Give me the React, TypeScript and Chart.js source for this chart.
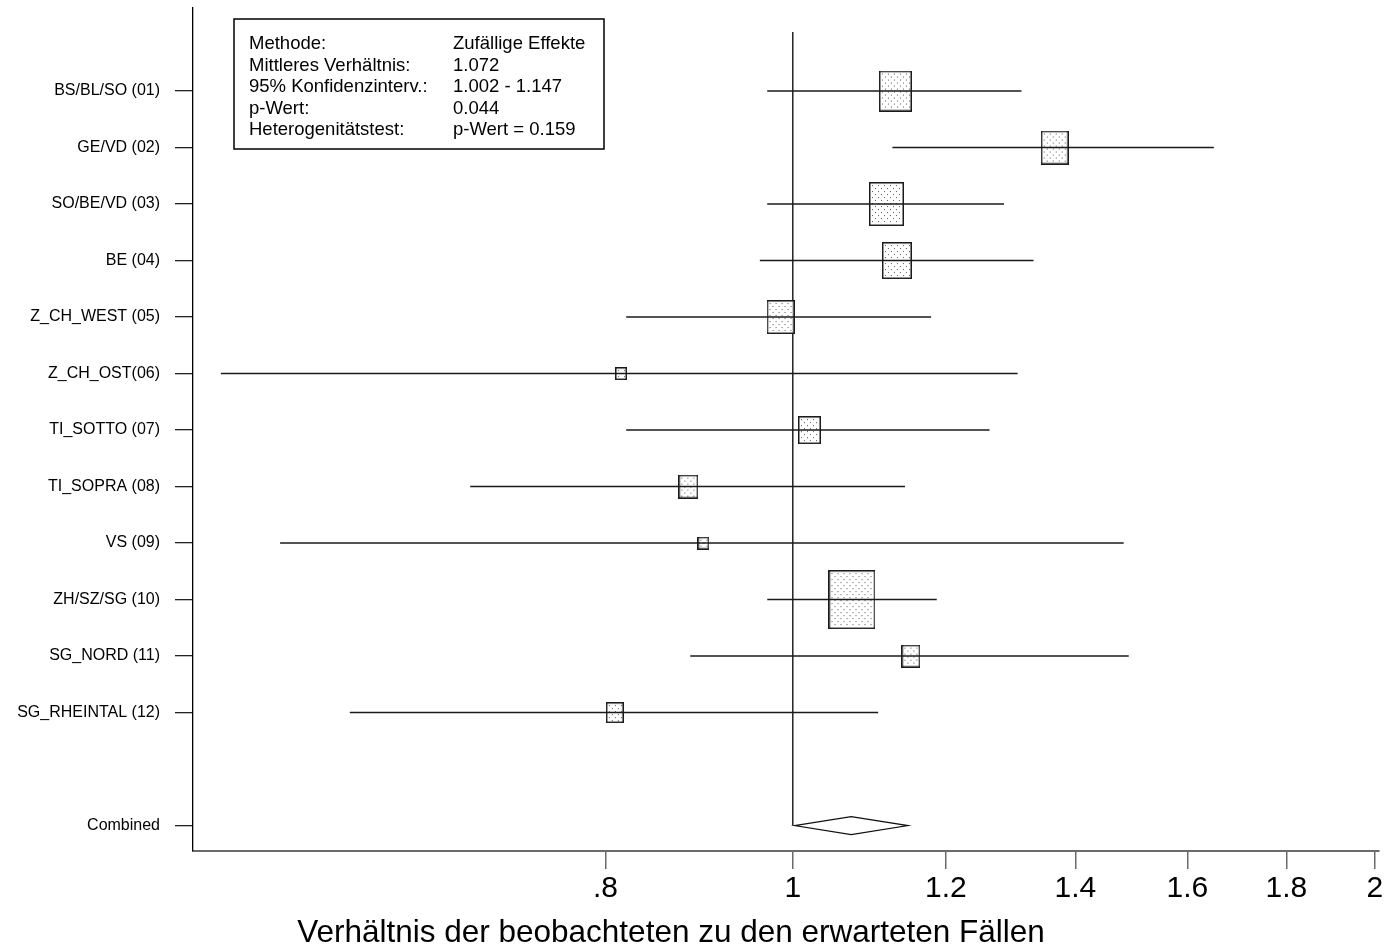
import { useEffect, useRef } from "react";
import { Chart, registerables } from "chart.js";

Chart.register(...registerables);

// Study regions, one row each (top to bottom)
const regionLabels = [
  "BS/BL/SO (01)",
  "GE/VD (02)",
  "SO/BE/VD (03)",
  "BE (04)",
  "Z_CH_WEST (05)",
  "Z_CH_OST(06)",
  "TI_SOTTO (07)",
  "TI_SOPRA (08)",
  "VS (09)",
  "ZH/SZ/SG (10)",
  "SG_NORD (11)",
  "SG_RHEINTAL (12)",
];
const rowPositions = [1, 2, 3, 4, 5, 6, 7, 8, 9, 10, 11, 12];

// Observed / expected ratio with 95% confidence limits
const ratioEstimates = [1.13, 1.366, 1.118, 1.132, 0.9855, 0.815, 1.02, 0.883, 0.899, 1.073, 1.151, 0.809];
const lowerLimits = [0.97, 1.126, 0.97, 0.9615, 0.82, 0.506, 0.82, 0.681, 0.543, 0.97, 0.885, 0.59];
const upperLimits = [1.313, 1.651, 1.286, 1.332, 1.179, 1.307, 1.264, 1.143, 1.483, 1.187, 1.492, 1.107];
// Random-effects weights (%)
const studyWeights = [12.5, 8.6, 14.4, 10.2, 8.6, 1.26, 5.83, 4.28, 1.26, 25.9, 3.93, 3.28];

// Pooled estimate
const combinedLabel = "Combined";
const combinedPosition = 14;
const combinedEstimate = 1.072;
const combinedLower = 1.002;
const combinedUpper = 1.147;

const xTickValues = [0.8, 1, 1.2, 1.4, 1.6, 1.8, 2];
const xAxisTitle = "Verhältnis der beobachteten zu den erwarteten Fällen";

const summaryRows: [string, string][] = [
  ["Methode:", "Zufällige Effekte"],
  ["Mittleres Verhältnis:", "1.072"],
  ["95% Konfidenzinterv.:", "1.002 - 1.147"],
  ["p-Wert:", "0.044"],
  ["Heterogenitätstest:", "p-Wert = 0.159"],
];

const FONT = "'Liberation Sans', Arial, Helvetica, sans-serif";
const MAX_BOX_HEIGHT = 59;

// Dotted, outlined box used as the point marker for each study
function makeBox(weight: number, maxWeight: number): HTMLCanvasElement {
  const h = Math.max(8, Math.round(MAX_BOX_HEIGHT * Math.sqrt(weight / maxWeight)));
  const w = Math.round(h * 0.76 + 2);
  const c = document.createElement("canvas");
  c.width = w;
  c.height = h;
  const g = c.getContext("2d")!;
  g.fillStyle = "#ffffff";
  g.fillRect(0, 0, w, h);
  g.fillStyle = "#5a5a5a";
  let row = 0;
  for (let y = 3; y < h - 2; y += 3) {
    const off = row % 2 === 0 ? 3 : 6;
    for (let x = off; x < w - 2; x += 6) g.fillRect(x, y, 1, 1);
    row++;
  }
  g.strokeStyle = "#1a1a1a";
  g.lineWidth = 1.5;
  g.strokeRect(0.75, 0.75, w - 1.5, h - 1.5);
  return c;
}

function formatTick(v: number): string {
  const s = String(Math.round(v * 100) / 100);
  return s.startsWith("0.") ? s.slice(1) : s;
}

const overlayPlugin = {
  id: "forestOverlay",
  beforeDatasetsDraw(chart: any) {
    const { ctx, chartArea, scales } = chart;
    const x1 = scales.x.getPixelForValue(1);
    ctx.save();
    ctx.strokeStyle = "#000";
    ctx.lineWidth = 1.3;
    ctx.beginPath();
    ctx.moveTo(x1, chartArea.top + 24);
    ctx.lineTo(x1, scales.y.getPixelForValue(combinedPosition));
    ctx.stroke();
    ctx.restore();
  },
  afterDatasetsDraw(chart: any) {
    const { ctx, scales } = chart;
    const cy = scales.y.getPixelForValue(combinedPosition);
    const xl = scales.x.getPixelForValue(combinedLower);
    const xm = scales.x.getPixelForValue(combinedEstimate);
    const xr = scales.x.getPixelForValue(combinedUpper);
    ctx.save();
    ctx.beginPath();
    ctx.moveTo(xl, cy);
    ctx.lineTo(xm, cy - 9);
    ctx.lineTo(xr, cy);
    ctx.lineTo(xm, cy + 9);
    ctx.closePath();
    ctx.fillStyle = "#fff";
    ctx.fill();
    ctx.strokeStyle = "#111";
    ctx.lineWidth = 1.2;
    ctx.stroke();
    ctx.restore();
  },
  afterDraw(chart: any) {
    const { ctx, chartArea } = chart;
    ctx.save();
    // summary box
    const bx = chartArea.left + 41;
    const by = 19;
    ctx.fillStyle = "#fff";
    ctx.fillRect(bx, by, 370, 130);
    ctx.strokeStyle = "#000";
    ctx.lineWidth = 1.5;
    ctx.strokeRect(bx, by, 370, 130);
    ctx.fillStyle = "#000";
    ctx.font = `18.5px ${FONT}`;
    ctx.textBaseline = "alphabetic";
    ctx.textAlign = "left";
    summaryRows.forEach(([k, v], i) => {
      const yy = by + 30 + i * 21.5;
      ctx.fillText(k, bx + 15, yy);
      ctx.fillText(v, bx + 219, yy);
    });
    // x axis title
    ctx.font = `31.5px ${FONT}`;
    ctx.textAlign = "center";
    ctx.fillText(xAxisTitle, 671, 942);
    ctx.restore();
  },
};

export default function App() {
  const canvasRef = useRef<HTMLCanvasElement | null>(null);

  useEffect(() => {
    const canvas = canvasRef.current;
    if (!canvas) return;
    const maxWeight = Math.max(...studyWeights);
    const boxes = studyWeights.map((w) => makeBox(w, maxWeight));

    const ciDatasets = rowPositions.map((r, i) => ({
      type: "line" as const,
      label: regionLabels[i],
      data: [
        { x: lowerLimits[i], y: r },
        { x: upperLimits[i], y: r },
      ],
      borderColor: "#1a1a1a",
      borderWidth: 1.5,
      pointRadius: 0,
      fill: false,
      order: 1,
    }));

    const chart = new Chart(canvas, {
      type: "scatter",
      data: {
        datasets: [
          ...ciDatasets,
          {
            type: "scatter" as const,
            label: "Schätzer",
            data: rowPositions.map((r, i) => ({ x: ratioEstimates[i], y: r })),
            pointStyle: boxes as any,
            pointRadius: 5,
            order: 2,
          },
        ] as any,
      },
      options: {
        responsive: false,
        animation: false,
        devicePixelRatio: 1,
        events: [],
        layout: { padding: { top: 8, right: 8, left: 0, bottom: 0 } },
        plugins: { legend: { display: false }, tooltip: { enabled: false }, title: { display: false } },
        scales: {
          x: {
            type: "logarithmic",
            position: "bottom",
            min: 0.4895,
            max: 2.01,
            bounds: "data",
            afterBuildTicks: (scale: any) => {
              scale.ticks = xTickValues.map((v) => ({ value: v }));
            },
            afterFit: (scale: any) => {
              scale.height = 98;
              scale.paddingLeft = 0;
              scale.paddingRight = 0;
            },
            ticks: {
              autoSkip: false,
              maxRotation: 0,
              padding: 2,
              color: "#000",
              font: { family: FONT, size: 30 },
              callback: (v: any) => formatTick(Number(v)),
            },
            grid: {
              display: true,
              drawOnChartArea: false,
              drawTicks: true,
              tickLength: 18,
              color: "#6a6a6a",
              lineWidth: 1.5,
            },
            border: { display: true, color: "#6a6a6a", width: 2 },
          },
          y: {
            type: "linear",
            position: "left",
            min: -0.47,
            max: 14.45,
            reverse: true,
            bounds: "data",
            afterBuildTicks: (scale: any) => {
              scale.ticks = [...rowPositions, combinedPosition].map((v) => ({ value: v }));
            },
            afterFit: (scale: any) => {
              scale.width = 193;
              scale.paddingTop = 0;
              scale.paddingBottom = 0;
            },
            ticks: {
              autoSkip: false,
              padding: 15,
              color: "#000",
              font: { family: FONT, size: 16 },
              callback: (v: any) => {
                const n = Number(v);
                if (n === combinedPosition) return combinedLabel;
                const idx = rowPositions.indexOf(n);
                return idx >= 0 ? regionLabels[idx] : "";
              },
            },
            grid: {
              display: true,
              drawOnChartArea: false,
              drawTicks: true,
              tickLength: 18,
              color: "#222",
              lineWidth: 1.3,
            },
            border: { display: true, color: "#000", width: 1.3 },
          },
        },
      },
      plugins: [overlayPlugin],
    });

    return () => chart.destroy();
  }, []);

  return (
    <div style={{ position: "fixed", left: 0, top: 0, width: 1387, height: 949, background: "#fff" }}>
      <canvas ref={canvasRef} width={1387} height={949} style={{ display: "block" }} />
    </div>
  );
}
